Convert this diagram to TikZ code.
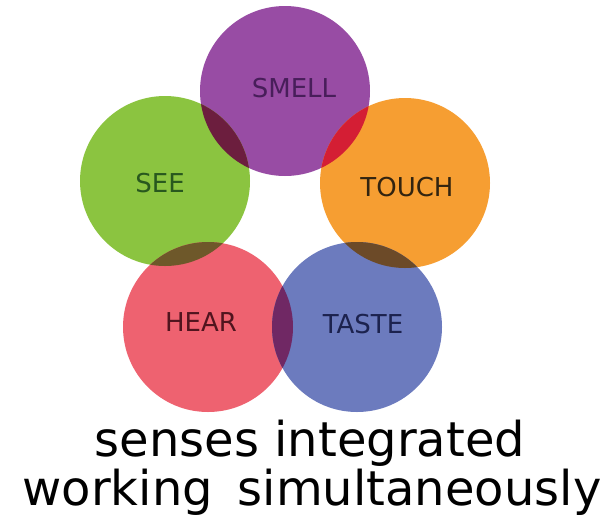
\documentclass[tikz,border=0pt]{standalone}
\usepackage{fontspec}
\setmainfont{DejaVu Sans}
\usetikzlibrary{positioning}

\definecolor{smellc}{RGB}{152,76,164}
\definecolor{seec}{RGB}{139,196,64}
\definecolor{touchc}{RGB}{246,158,50}
\definecolor{hearc}{RGB}{238,98,112}
\definecolor{tastec}{RGB}{108,123,190}
\definecolor{smellseec}{RGB}{108,30,62}
\definecolor{smelltouchc}{RGB}{212,30,52}
\definecolor{seehearc}{RGB}{110,88,42}
\definecolor{touchtastec}{RGB}{108,74,40}
\definecolor{heartastec}{RGB}{112,40,100}
\definecolor{smellt}{RGB}{72,30,90}
\definecolor{seet}{RGB}{40,88,30}
\definecolor{toucht}{RGB}{50,36,16}
\definecolor{heart}{RGB}{80,20,30}
\definecolor{tastet}{RGB}{28,34,78}

\begin{document}
\begin{tikzpicture}[
  x=1pt, y=-1pt,
  sense/.style={circle, minimum size=170pt, inner sep=0pt},
  word/.style={font=\fontsize{26}{28}\selectfont},
  caption/.style={font=\fontsize{48}{50}\selectfont, anchor=base},
  disc/.style={radius=85pt}
]
\useasboundingbox (0,0) rectangle (615,517);

\node[sense, fill=smellc] (smell) at (285,91) {};
\node[sense, fill=seec] (see) at (165,181) {};
\node[sense, fill=touchc] (touch) at (405,183) {};
\node[sense, fill=hearc] (hear) at (208,327) {};
\node[sense, fill=tastec] (taste) at (357,327) {};

% where two senses meet
\begin{scope}
  \clip (smell.center) circle[disc];
  \fill[smellseec] (see.center) circle[disc];
  \fill[smelltouchc] (touch.center) circle[disc];
\end{scope}
\begin{scope}
  \clip (hear.center) circle[disc];
  \fill[seehearc] (see.center) circle[disc];
  \fill[heartastec] (taste.center) circle[disc];
\end{scope}
\begin{scope}
  \clip (taste.center) circle[disc];
  \fill[touchtastec] (touch.center) circle[disc];
\end{scope}

\node[word, text=smellt] (smelltxt) at ([shift={(9,-3)}]smell.center) {SMELL};
\node[word, text=seet] (seetxt) at ([shift={(-5,2)}]see.center) {SEE};
\node[word, text=toucht] (touchtxt) at ([shift={(2,4)}]touch.center) {TOUCH};
\node[word, text=heart] (heartxt) at ([shift={(-7,-5)}]hear.center) {HEAR};
\node[word, text=tastet] (tastetxt) at ([shift={(6,-3)}]taste.center) {TASTE};

\node[caption] (line1) at (310,456) {senses integrated};
\node[caption] (line2) at (312,505) {working\hspace{0.2em} simultaneously};
\end{tikzpicture}
\end{document}
